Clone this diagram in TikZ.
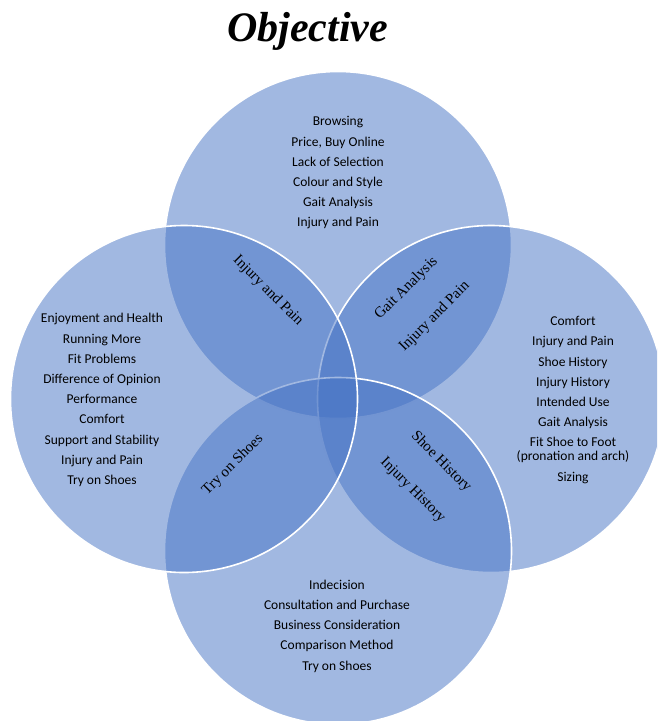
\documentclass[tikz,border=0pt]{standalone}
\usepackage{fontspec}
\setmainfont{Liberation Serif}
\newfontfamily\listfont{Carlito}
\definecolor{vennblue}{RGB}{68,114,196}
\begin{document}
\begin{tikzpicture}[x=1pt,y=-1pt,
  venn/.style={circle, minimum size=347pt, inner sep=0pt, fill=vennblue,
               fill opacity=0.5, draw=white, draw opacity=1, line width=1.6pt},
  items/.style={align=center, text=black,
                font=\listfont\fontsize{13.5}{20.2}\selectfont},
  lens/.style={text=black, inner sep=0pt, align=center,
               font=\fontsize{15}{18}\selectfont},
]
\clip (0,0) rectangle (657,721);

% four overlapping sets
\node[venn] (top)    at (338,245) {};
\node[venn] (right)  at (491,399) {};
\node[venn] (bottom) at (338,551) {};
\node[venn] (left)   at (184,399) {};

% heading
\node[font=\bfseries\itshape\fontsize{42}{48}\selectfont] (title) at (307.5,31) {Objective};

% items of each set
\node[items] (topitems) at (338,173) {Browsing\\Price, Buy Online\\Lack of Selection\\Colour and Style\\Gait Analysis\\Injury and Pain};
\node[items] (leftitems) at (102,400) {Enjoyment and Health\\Running More\\Fit Problems\\Difference of Opinion\\Performance\\Comfort\\Support and Stability\\Injury and Pain\\Try on Shoes};
\node[items] (rightitems) at (573,400) {Comfort\\Injury and Pain\\Shoe History\\Injury History\\Intended Use\\Gait Analysis\\Fit Shoe to Foot\\[-6.2pt](pronation and arch)\\Sizing};
\node[items] (bottomitems) at (337,626) {Indecision\\Consultation and Purchase\\Business Consideration\\Comparison Method\\Try on Shoes};

% shared items in the pairwise overlaps
\node[lens, rotate=-45] (tl) at (268,291) {Injury and Pain};
\node[lens, rotate=45] (tr) at (420.5,302.5) {Gait Analysis\\[22pt]Injury and Pain};
\node[lens, rotate=45] (bl) at (233,465) {Try on Shoes};
\node[lens, rotate=-45] (br) at (427,476) {Shoe History\\[22pt]Injury History};
\end{tikzpicture}
\end{document}
